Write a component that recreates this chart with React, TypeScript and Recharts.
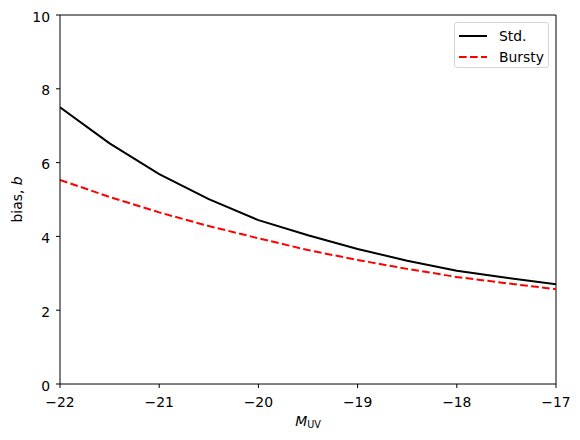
import { LineChart, Line, XAxis, YAxis, ReferenceLine } from "recharts";

// 광도별 bias 값
const muvValues = [-22, -21.5, -21, -20.5, -20, -19.5, -19, -18.5, -18, -17.5, -17];
const stdBias = [7.5, 6.52, 5.69, 5.01, 4.44, 4.03, 3.66, 3.34, 3.07, 2.88, 2.7];
const burstyBias = [5.53, 5.07, 4.65, 4.28, 3.95, 3.63, 3.36, 3.12, 2.9, 2.73, 2.57];

const xTicks = [-22, -21, -20, -19, -18, -17];
const yTicks = [0, 2, 4, 6, 8, 10];

const data = muvValues.map((m, i) => ({
  muv: m,
  std: stdBias[i],
  bursty: burstyBias[i],
}));

const FONT = "DejaVu Sans, sans-serif";
const FS = 13.9;
const DASH = "7.7 3.3";
const minus = (v: number) => String(v).replace("-", "\u2212");

// 눈금 라벨 (matplotlib 위치에 맞춤)
const XTick = ({ x, y, payload }: any) => (
  <text x={x} y={y + 19} textAnchor="middle" fontFamily={FONT} fontSize={FS} fill="#000">
    {minus(payload.value)}
  </text>
);

const YTick = ({ x, y, payload }: any) => (
  <text x={x} y={y + 6.5} textAnchor="end" fontFamily={FONT} fontSize={FS} fill="#000">
    {minus(payload.value)}
  </text>
);

const XLabel = (props: any) => {
  const vb = props.viewBox || {};
  const cx = vb.x + vb.width / 2;
  return (
    <text x={cx} y={426} textAnchor="middle" fontFamily={FONT} fontSize={FS} fill="#000">
      <tspan fontStyle="italic">M</tspan>
      <tspan fontSize={9.7} dy={2}>UV</tspan>
    </text>
  );
};

const YLabel = (props: any) => {
  const vb = props.viewBox || {};
  const cy = vb.y + vb.height / 2;
  return (
    <text
      x={22}
      y={cy}
      transform={`rotate(-90 22 ${cy})`}
      textAnchor="middle"
      fontFamily={FONT}
      fontSize={FS}
      fill="#000"
    >
      bias, <tspan fontStyle="italic">b</tspan>
    </text>
  );
};

const legendRows = [
  { label: "Std.", color: "#000000", dash: undefined },
  { label: "Bursty", color: "#ff0000", dash: DASH },
];

// 범례 (matplotlib 스타일 박스)
const ChartLegend = () => (
  <div
    style={{
      position: "absolute",
      left: 454,
      top: 22,
      width: 95,
      height: 46,
      border: "1px solid #d6d6d6",
      borderRadius: 3,
      background: "#fff",
      boxSizing: "border-box",
      fontFamily: FONT,
      fontSize: FS,
      paddingTop: 2,
    }}
  >
    {legendRows.map((r) => (
      <div key={r.label} style={{ display: "flex", alignItems: "center", height: 21 }}>
        <svg width={40} height={10} style={{ marginLeft: 4 }}>
          <line x1={0} y1={5} x2={28} y2={5} stroke={r.color} strokeWidth={2} strokeDasharray={r.dash} />
        </svg>
        <span style={{ color: "#000" }}>{r.label}</span>
      </div>
    ))}
  </div>
);

export default function App() {
  return (
    <div style={{ position: "absolute", left: 0, top: 0, width: 580, height: 440, background: "#fff" }}>
      <LineChart
        width={580}
        height={440}
        data={data}
        margin={{ top: 15, right: 24, left: 0, bottom: 0 }}
      >
        <XAxis
          dataKey="muv"
          type="number"
          domain={[-22, -17]}
          ticks={xTicks}
          tick={<XTick />}
          tickSize={4}
          tickMargin={0}
          height={56}
          stroke="#000"
          allowDataOverflow
          label={{ content: <XLabel /> }}
        />
        <YAxis
          type="number"
          domain={[0, 10]}
          ticks={yTicks}
          tick={<YTick />}
          tickSize={4}
          tickMargin={6}
          width={60}
          stroke="#000"
          allowDataOverflow
          label={{ content: <YLabel /> }}
        />
        <ReferenceLine y={10} stroke="#000" strokeWidth={1} />
        <ReferenceLine x={-17} stroke="#000" strokeWidth={1} />
        <Line
          type="linear"
          dataKey="std"
          stroke="#000000"
          strokeWidth={2}
          dot={false}
          isAnimationActive={false}
        />
        <Line
          type="linear"
          dataKey="bursty"
          stroke="#ff0000"
          strokeWidth={2}
          strokeDasharray={DASH}
          dot={false}
          isAnimationActive={false}
        />
      </LineChart>
      <ChartLegend />
    </div>
  );
}
